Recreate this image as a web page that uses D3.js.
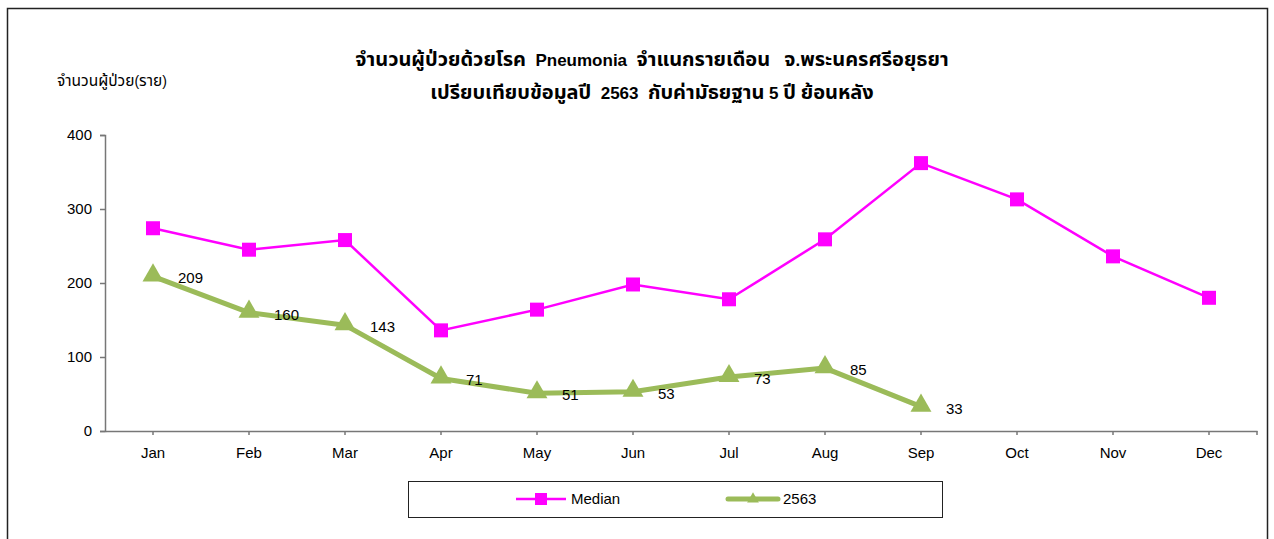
<!DOCTYPE html>
<html>
<head>
<meta charset="utf-8">
<script src="https://cdn.jsdelivr.net/npm/d3@7"></script>
<style>
  body { margin: 0; background: #fff; }
  svg { display: block; font-family: Arial, "Liberation Sans", "Noto Sans Thai", "Noto Sans", sans-serif; }
</style>
</head>
<body>
<svg id="chart" width="1274" height="539"></svg>
<script>
const months = ["Jan", "Feb", "Mar", "Apr", "May", "Jun", "Jul", "Aug", "Sep", "Oct", "Nov", "Dec"];
const medianValues = [274, 245, 258, 136, 164, 198, 178, 259, 362, 313, 236, 180];
const values2563 = [209, 160, 143, 71, 51, 53, 73, 85, 33];
const yTicks = [0, 100, 200, 300, 400];
const titleLines = [
    "จำนวนผู้ป่วยด้วยโรค  Pneumonia  จำแนกรายเดือน   จ.พระนครศรีอยุธยา",
    "เปรียบเทียบข้อมูลปี  2563  กับค่ามัธยฐาน 5 ปี ย้อนหลัง"
];
const yLabel = "จำนวนผู้ป่วย(ราย)";
const seriesNames = ["Median", "2563"];

const magenta = "#ff00ff";
const green = "#9bbb59";

var svg = d3.select("#chart");

// outer frame
svg.append("rect")
    .attr("x", 7.5).attr("y", 8.5)
    .attr("width", 1260).attr("height", 600)
    .attr("fill", "none")
    .attr("stroke", "#222")
    .attr("stroke-width", 1.5);

var mLeft = 105, mRight = 1257, mTop = 135, mBottom = 431;

let x = d3.scaleBand().domain(months).range([mLeft, mRight]);
let y = d3.scaleLinear().domain([0, 400]).range([mBottom, mTop]);
var cx = (m) => x(m) + x.bandwidth() / 2;

// split a string into thai / non-thai runs so the thai glyphs can be sized up
function addRuns(textSel, str, thaiSize, latinSize) {
    var runs = str.match(/[\u0E00-\u0E7F]+|[^\u0E00-\u0E7F]+/g);
    runs.forEach(r => {
        textSel.append("tspan")
            .style("font-size", /[\u0E00-\u0E7F]/.test(r) ? thaiSize : latinSize)
            .text(r);
    });
}

// title
titleLines.forEach((t, i) => {
    var tt = svg.append("text")
        .attr("x", 652)
        .attr("y", 66 + i * 33)
        .attr("text-anchor", "middle")
        .style("font-weight", "bold")
        .style("white-space", "pre");
    addRuns(tt, t, "20px", "17px");
});

var yl = svg.append("text")
    .attr("x", 57).attr("y", 86);
addRuns(yl, yLabel, "15.5px", "14px");

// y axis
var yAxis = svg.append("g")
    .attr("transform", "translate(" + mLeft + ",0)")
    .call(d3.axisLeft(y).tickValues(yTicks).tickSize(5).tickPadding(8));
yAxis.selectAll("text").style("font-size", "15px").attr("fill", "#000");

// x axis
var xAxis = svg.append("g")
    .attr("transform", "translate(0," + mBottom + ")")
    .call(d3.axisBottom(x).tickSize(4).tickSizeOuter(0).tickPadding(12));
xAxis.selectAll("text").style("font-size", "15px").attr("fill", "#000");
xAxis.append("line")
    .attr("class", "endtick")
    .attr("x1", mRight).attr("x2", mRight)
    .attr("y1", 0).attr("y2", 4);
svg.selectAll(".domain, .tick line, .endtick").attr("stroke", "#777").attr("stroke-width", 1.5);

let line = d3.line().x(d => cx(d.m)).y(d => y(d.v));

var medData = medianValues.map((v, i) => ({m: months[i], v: v}));
var greenData = values2563.map((v, i) => ({m: months[i], v: v}));

// median line
svg.append("path")
    .datum(medData)
    .attr("d", line)
    .attr("fill", "none")
    .attr("stroke", magenta)
    .attr("stroke-width", 2.5);
svg.selectAll("rect.med")
    .data(medData)
    .enter().append("rect")
    .attr("class", "med")
    .attr("x", d => cx(d.m) - 7)
    .attr("y", d => y(d.v) - 7)
    .attr("width", 14).attr("height", 14)
    .attr("fill", magenta);

// 2563 line
svg.append("path")
    .datum(greenData)
    .attr("d", line)
    .attr("fill", "none")
    .attr("stroke", green)
    .attr("stroke-width", 5)
    .attr("stroke-linejoin", "round");
var tri = d3.symbol().type(d3.symbolTriangle).size(190);
svg.selectAll("path.tri")
    .data(greenData)
    .enter().append("path")
    .attr("class", "tri")
    .attr("d", tri)
    .attr("transform", d => "translate(" + cx(d.m) + "," + (y(d.v) - 1) + ")")
    .attr("fill", green);
svg.selectAll("text.lbl")
    .data(greenData)
    .enter().append("text")
    .attr("class", "lbl")
    .attr("x", d => cx(d.m) + 25)
    .attr("y", d => y(d.v) + 7)
    .style("font-size", "15px")
    .text(d => d.v);

// legend
svg.append("rect")
    .attr("x", 408.5).attr("y", 481.5)
    .attr("width", 534).attr("height", 36)
    .attr("fill", "none")
    .attr("stroke", "#222")
    .attr("stroke-width", 1);

var legend = svg.selectAll("g.legend")
    .data(seriesNames)
    .enter().append("g")
    .attr("class", "legend")
    .attr("transform", (d, i) => "translate(" + (516 + i * 212) + ",499)");
legend.append("line")
    .attr("x1", 0).attr("x2", 50)
    .attr("stroke", (d, i) => i === 0 ? magenta : green)
    .attr("stroke-width", (d, i) => i === 0 ? 2.5 : 5)
    .attr("stroke-linecap", (d, i) => i === 0 ? "butt" : "round");
legend.append("path")
    .attr("d", (d, i) => i === 0 ? "M-6,-6H6V6H-6Z" : d3.symbol().type(d3.symbolTriangle).size(60)())
    .attr("transform", "translate(25,0)")
    .attr("fill", (d, i) => i === 0 ? magenta : green);
legend.append("text")
    .attr("x", 55).attr("y", 5)
    .style("font-size", "15px")
    .text(d => d);
</script>
</body>
</html>
